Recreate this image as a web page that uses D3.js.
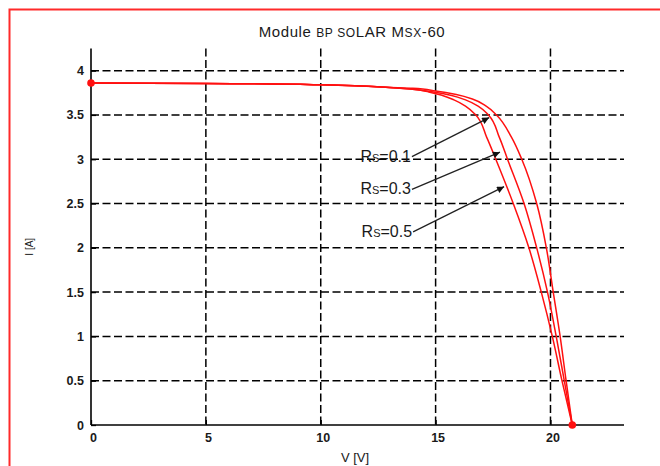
<!DOCTYPE html>
<html>
<head>
<meta charset="utf-8">
<script src="https://cdn.jsdelivr.net/npm/d3@7"></script>
<style>
  html, body { margin: 0; padding: 0; background: #fff; }
  svg { display: block; }
  text { font-family: "Liberation Sans", Arial, sans-serif; fill: #1a1a1a; }
</style>
</head>
<body>
<svg id="chart" width="660" height="466"></svg>
<script>
// I-V characteristic of the BP SOLAR MSX-60 module for three series resistances
const seriesNames = ["Rs=0.1", "Rs=0.3", "Rs=0.5"];

const voltageRs01 = [0, 5, 10, 13, 14.0, 15.0, 15.9, 16.6, 17.2, 17.65, 18.3, 18.75, 19.4, 19.82, 20.12, 20.42, 20.68, 20.95];
const currentRs01 = [3.86, 3.855, 3.84, 3.81, 3.80, 3.77, 3.73, 3.68, 3.60, 3.50, 3.25, 3.0, 2.5, 2.0, 1.5, 1.0, 0.5, 0];

const voltageRs03 = [0, 5, 10, 13, 14.0, 14.9, 15.7, 16.3, 16.85, 17.3, 17.77, 18.13, 18.85, 19.4, 19.87, 20.25, 20.6, 20.95];
const currentRs03 = [3.86, 3.855, 3.84, 3.81, 3.79, 3.76, 3.72, 3.67, 3.60, 3.50, 3.25, 3.0, 2.5, 2.0, 1.5, 1.0, 0.5, 0];

const voltageRs05 = [0, 5, 10, 13, 14.0, 14.7, 15.3, 15.8, 16.3, 16.75, 17.22, 17.62, 18.38, 19.06, 19.6, 20.08, 20.5, 20.95];
const currentRs05 = [3.86, 3.855, 3.84, 3.81, 3.79, 3.76, 3.72, 3.67, 3.60, 3.50, 3.25, 3.0, 2.5, 2.0, 1.5, 1.0, 0.5, 0];

// short-circuit and open-circuit points
const markerV = [0, 20.95];
const markerI = [3.86, 0];

const xTicks = [0, 5, 10, 15, 20];
const yTicks = [0, 0.5, 1, 1.5, 2, 2.5, 3, 3.5, 4];
const yTickLabels = ["0", "0.5", "1", "1.5", "2", "2.5", "3", "3.5", "4"];

// annotation arrows: label anchor (tail) and head, in data units
const arrowTailV = [13.97, 13.97, 14.02];
const arrowTailI = [3.03, 2.66, 2.18];
const arrowHeadV = [17.33, 17.8, 17.98];
const arrowHeadI = [3.47, 3.08, 2.69];

const svg = d3.select("#chart");

// frame around the figure
svg.append("rect")
  .attr("x", 9.5).attr("y", 9.5)
  .attr("width", 700).attr("height", 500)
  .attr("fill", "none").attr("stroke", "#ff2a2a").attr("stroke-width", 2);

const x = d3.scaleLinear().domain([0, 23.2]).range([91, 624]);
const y = d3.scaleLinear().domain([0, 4.25]).range([425, 48.5]);

// dashed grid
const grid = svg.append("g").attr("stroke", "#000").attr("stroke-width", 1.5)
  .attr("stroke-dasharray", "8,3.5");
grid.selectAll("line.v").data(xTicks.filter(d => d > 0)).join("line")
  .attr("class", "v")
  .attr("x1", d => x(d)).attr("x2", d => x(d))
  .attr("y1", y.range()[1]).attr("y2", y(0));
grid.selectAll("line.h").data(yTicks.filter(d => d > 0)).join("line")
  .attr("class", "h")
  .attr("x1", x(0)).attr("x2", x.range()[1])
  .attr("y1", d => y(d)).attr("y2", d => y(d));

// axes
const xAxis = d3.axisBottom(x).tickValues(xTicks).tickSize(-5).tickPadding(8)
  .tickFormat(d3.format("d"));
const yAxis = d3.axisLeft(y).tickValues(yTicks).tickSize(-5).tickPadding(7)
  .tickFormat((d, i) => yTickLabels[i]);

const gx = svg.append("g").attr("transform", `translate(0,${y(0)})`).call(xAxis);
const gy = svg.append("g").attr("transform", `translate(${x(0)},0)`).call(yAxis);
[gx, gy].forEach(g => {
  g.select(".domain").attr("stroke", "#000").attr("stroke-width", 1.6);
  g.selectAll(".tick line").attr("stroke", "#000").attr("stroke-width", 1.3);
  g.selectAll(".tick text").attr("font-size", 12.5).attr("font-weight", "bold")
    .attr("fill", "#1d2030").attr("font-family", "\"Liberation Sans\", Arial, sans-serif");
});
gx.selectAll(".tick text").attr("dx", 2);
gy.select(".domain").attr("d", `M0,${y.range()[1]}V${y(0)}`);
gx.select(".domain").attr("d", `M${x(0)},0H${x.range()[1]}`);

// curves
const curves = [
  d3.zip(voltageRs01, currentRs01),
  d3.zip(voltageRs03, currentRs03),
  d3.zip(voltageRs05, currentRs05)
];
const line = d3.line().x(p => x(p[0])).y(p => y(p[1])).curve(d3.curveMonotoneY);
svg.append("g").selectAll("path").data(curves).join("path")
  .attr("d", line)
  .attr("fill", "none").attr("stroke", "#ff1010").attr("stroke-width", 1.5);

svg.append("g").selectAll("circle").data(d3.zip(markerV, markerI)).join("circle")
  .attr("cx", d => x(d[0])).attr("cy", d => y(d[1])).attr("r", 3.8)
  .attr("fill", "#ff1010");

// arrows with labels
svg.append("defs").append("marker")
  .attr("id", "head").attr("viewBox", "0 0 10 10")
  .attr("refX", 10).attr("refY", 5)
  .attr("markerWidth", 10).attr("markerHeight", 7)
  .attr("markerUnits", "userSpaceOnUse")
  .attr("orient", "auto")
  .append("path").attr("d", "M0,0L10,5L0,10Z").attr("fill", "#111");

const ann = svg.append("g");
seriesNames.forEach((name, i) => {
  ann.append("line")
    .attr("x1", x(arrowTailV[i])).attr("y1", y(arrowTailI[i]))
    .attr("x2", x(arrowHeadV[i])).attr("y2", y(arrowHeadI[i]))
    .attr("stroke", "#222").attr("stroke-width", 1.3)
    .attr("marker-end", "url(#head)");
  ann.append("text")
    .attr("x", x(arrowTailV[i]) - 1).attr("y", y(arrowTailI[i]) + 5)
    .attr("text-anchor", "end")
    .attr("font-size", 16)
    .attr("font-variant", "small-caps")
    .attr("font-family", "\"DejaVu Sans\", sans-serif")
    .attr("fill", "#2a2440")
    .text(name);
});

// title, with the mixed letter sizes of the module name
const title = svg.append("text")
  .attr("x", 352).attr("y", 37).attr("text-anchor", "middle")
  .attr("letter-spacing", 0.6).attr("fill", "#222");
[["Module ", 15], ["BP SO", 12], ["LAR ", 15], ["M", 15], ["SX", 12], ["-60", 15]]
  .forEach(([t, s]) => title.append("tspan").attr("font-size", s).text(t));

// axis titles
svg.append("text").attr("x", 355).attr("y", 462).attr("text-anchor", "middle")
  .attr("font-size", 13).attr("fill", "#222").text("V [V]");
svg.append("text")
  .attr("transform", `translate(33,${(y(0) + y.range()[1]) / 2 + 10}) rotate(-90)`)
  .attr("text-anchor", "middle").attr("font-size", 10).attr("fill", "#444").text("I [A]");
</script>
</body>
</html>
